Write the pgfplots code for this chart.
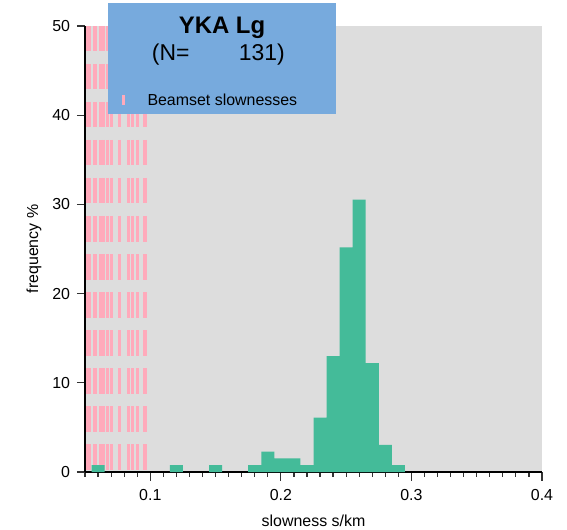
\documentclass[border=0pt]{standalone}
\usepackage{pgfplots}
\pgfplotsset{compat=1.18}
\usepackage{fontspec}
\setmainfont{Liberation Sans}
\definecolor{tolmint}{HTML}{44BB99}
\definecolor{tolpink}{HTML}{FFAABB}
\definecolor{tolblue}{HTML}{77AADD}
\definecolor{tolgray}{HTML}{DDDDDD}
\begin{document}
\begin{tikzpicture}
\begin{axis}[
  scale only axis, width=457bp, height=446bp,
  xmin=0.05, xmax=0.4, ymin=0, ymax=50,
  axis x line*=bottom, axis y line*=left,
  axis line style={line width=1.6bp, black},
  axis background/.style={fill=tolgray},
  xtick={0.1,0.2,0.3,0.4},
  xticklabels={0.1,0.2,0.3,0.4},
  minor xtick={0.05,0.06,0.07,0.08,0.09,0.11,0.12,0.13,0.14,0.15,0.16,0.17,0.18,0.19,0.21,0.22,0.23,0.24,0.25,0.26,0.27,0.28,0.29,0.31,0.32,0.33,0.34,0.35,0.36,0.37,0.38,0.39},
  ytick={0,10,20,30,40,50},
  xtick align=outside, ytick align=outside,
  major tick length=8bp, minor tick length=4.5bp,
  xtick style={draw=black!80, line width=1.2bp},
  ytick style={draw=black!80, line width=1.2bp},
  /pgf/number format/assume math mode=true,
  ticklabel style={font=\fontsize{16}{19}\selectfont},
  xticklabel style={anchor=base, yshift=-20.5bp},
  yticklabel style={xshift=-3.4bp},
  xlabel={slowness s/km}, ylabel={frequency \%},
  label style={font=\fontsize{16}{19}\selectfont},
  xlabel style={at={(axis description cs:0.5,-0.1211)}, anchor=base},
  ylabel style={at={(axis description cs:-0.1116,0.5)}, anchor=center},
]
% beamset slownesses (rug lines)
\addplot[tolpink, line width=3.3bp, dash pattern=on 25.5bp off 12.5bp, forget plot] coordinates {(0.05184,50) (0.05184,0)};
\addplot[tolpink, line width=3.3bp, dash pattern=on 25.5bp off 12.5bp, forget plot] coordinates {(0.05337,50) (0.05337,0)};
\addplot[tolpink, line width=3.3bp, dash pattern=on 25.5bp off 12.5bp, forget plot] coordinates {(0.05766,50) (0.05766,0)};
\addplot[tolpink, line width=3.3bp, dash pattern=on 25.5bp off 12.5bp, forget plot] coordinates {(0.06226,50) (0.06226,0)};
\addplot[tolpink, line width=3.3bp, dash pattern=on 25.5bp off 12.5bp, forget plot] coordinates {(0.06425,50) (0.06425,0)};
\addplot[tolpink, line width=3.3bp, dash pattern=on 25.5bp off 12.5bp, forget plot] coordinates {(0.06739,50) (0.06739,0)};
\addplot[tolpink, line width=3.3bp, dash pattern=on 25.5bp off 12.5bp, forget plot] coordinates {(0.07031,50) (0.07031,0)};
\addplot[tolpink, line width=3.3bp, dash pattern=on 25.5bp off 12.5bp, forget plot] coordinates {(0.07659,50) (0.07659,0)};
\addplot[tolpink, line width=3.3bp, dash pattern=on 25.5bp off 12.5bp, forget plot] coordinates {(0.08318,50) (0.08318,0)};
\addplot[tolpink, line width=3.3bp, dash pattern=on 25.5bp off 12.5bp, forget plot] coordinates {(0.08625,50) (0.08625,0)};
\addplot[tolpink, line width=3.3bp, dash pattern=on 25.5bp off 12.5bp, forget plot] coordinates {(0.09000,50) (0.09000,0)};
\addplot[tolpink, line width=3.3bp, dash pattern=on 25.5bp off 12.5bp, forget plot] coordinates {(0.09598,50) (0.09598,0)};
% histogram (percent of 131)
\addplot[ybar, bar width=0.01, bar shift=0pt, fill=tolmint, draw=none] coordinates {
(0.06,0.763) (0.12,0.763) (0.15,0.763) (0.18,0.763) (0.19,2.290)
(0.20,1.527) (0.21,1.527) (0.22,0.763) (0.23,6.107) (0.24,12.977)
(0.25,25.191) (0.26,30.534) (0.27,12.214) (0.28,3.053) (0.29,0.763)};
\end{axis}
\begin{scope}[shift={(current axis.south west)}, x=1bp, y=1bp]
  % x-axis tick marks (minor every 0.01, major every 0.1)
  \foreach \i in {0,...,35} {
    \draw[black!80, line width=1.2bp] ({\i*457/35},-0.8) -- ++(0,-4.5);
  }
  \foreach \i in {5,15,25,35} {
    \draw[black!80, line width=1.2bp] ({\i*457/35},-0.8) -- ++(0,-8);
  }
  \fill[tolblue] (23,358) rectangle (251,469);
  \node[anchor=base, inner sep=0pt, font=\fontsize{24}{28}\selectfont\bfseries] at (137,438.7) {YKA Lg};
  \node[anchor=base west, inner sep=0pt, font=\fontsize{23}{27}\selectfont] at (66.7,411) {(N=};
  \node[anchor=base east, inner sep=0pt, font=\fontsize{23}{27}\selectfont] at (200,411) {131)};
  \fill[tolpink] (36.5,367) rectangle (39.5,377);
  \node[anchor=base west, inner sep=0pt, font=\fontsize{16}{19}\selectfont] at (62.3,366.3) {Beamset slownesses};
  \path (-85,-57) rectangle (482,472);
\end{scope}
\end{tikzpicture}
\end{document}
